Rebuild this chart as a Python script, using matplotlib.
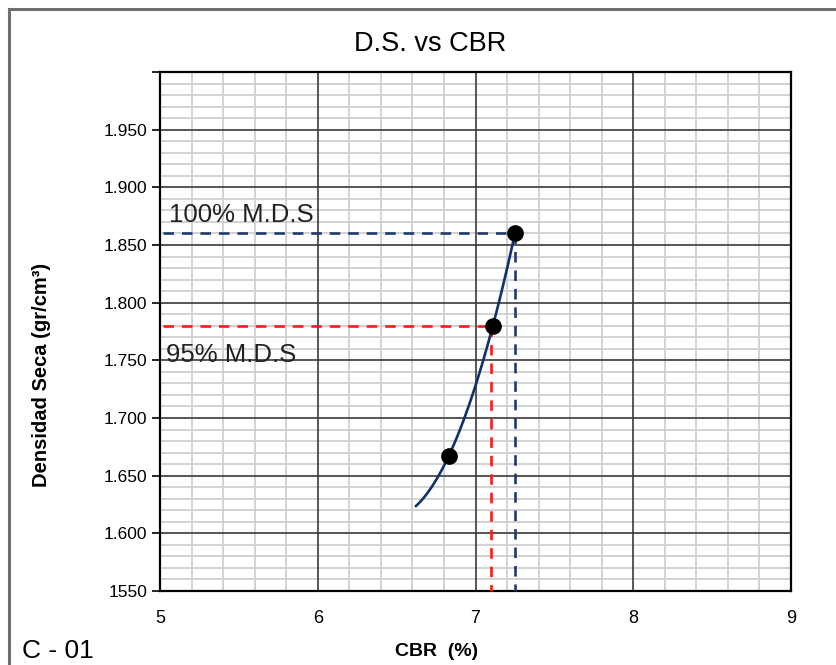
import numpy as np
import matplotlib
matplotlib.use("Agg")
import matplotlib.pyplot as plt
from matplotlib.ticker import MultipleLocator, FixedLocator, FixedFormatter
from matplotlib.lines import Line2D

plt.rcParams['font.family'] = ['Liberation Sans', 'DejaVu Sans']

# datos de ensayo
cbr = [6.83, 7.11, 7.25]          # CBR (%)
ds = [1.667, 1.780, 1.860]        # densidad seca (gr/cm3)

# valores de M.D.S
cbr_100, ds_100 = 7.25, 1.860
cbr_95, ds_95 = 7.10, 1.780

y_ticks = [1.55, 1.60, 1.65, 1.70, 1.75, 1.80, 1.85, 1.90, 1.95]
y_labels = ['1550', '1.600', '1.650', '1.700', '1.750', '1.800', '1.850', '1.900', '1.950']
x_ticks = [5, 6, 7, 8, 9]

fig = plt.figure(figsize=(8.36, 6.65), dpi=100)
ax = fig.add_axes([160/836, 1-591/665, (791-160)/836, (591-72)/665])

ax.set_xlim(5, 9)
ax.set_ylim(1.55, 2.0)

# rejilla: menor gris claro, mayor oscura por encima
ax.xaxis.set_major_locator(FixedLocator(x_ticks))
ax.xaxis.set_minor_locator(MultipleLocator(0.2))
ax.yaxis.set_major_locator(FixedLocator(y_ticks + [2.0]))
ax.yaxis.set_major_formatter(FixedFormatter(y_labels + ['']))
ax.yaxis.set_minor_locator(MultipleLocator(0.01))
ax.grid(which='minor', color='#cfcfcf', lw=1.3)
ax.set_axisbelow(True)
for xv in x_ticks:
    ax.axvline(xv, color='#3a3a3a', lw=1.2, zorder=1)
for yv in y_ticks:
    ax.axhline(yv, color='#3a3a3a', lw=1.2, zorder=1)

ax.tick_params(axis='y', which='major', length=6, width=1.2, labelsize=12.5, pad=3, colors='black')
ax.tick_params(axis='x', which='major', length=0, labelsize=13, pad=14)
ax.tick_params(which='minor', length=0)
for s in ax.spines.values():
    s.set_linewidth(1.6)
    s.set_color('black')

# curva de tendencia (polinomio grado 2)
coef = np.polyfit(cbr, ds, 2)
xc = np.linspace(6.623, cbr[-1], 100)
ax.plot(xc, np.polyval(coef, xc), color='#12306b', lw=1.9, zorder=4)

# lineas de M.D.S
ax.plot([5.02, cbr_100], [ds_100, ds_100], color='#1f3a6e', lw=1.9, ls=(0, (4, 3)), zorder=3)
ax.plot([cbr_100, cbr_100], [ds_100, 1.55], color='#1f3a6e', lw=1.9, ls=(0, (4, 3)), zorder=3, clip_on=False)
ax.plot([5.02, cbr_95], [ds_95, ds_95], color='#ff1a1a', lw=1.9, ls=(0, (4, 3)), zorder=3)
ax.plot([cbr_95, cbr_95], [ds_95, 1.55], color='#ff1a1a', lw=1.9, ls=(0, (4, 3)), zorder=3, clip_on=False)

ax.plot(cbr, ds, 'o', color='black', ms=11, zorder=5)

ax.text(5.057, 1.8764, '100% M.D.S', fontsize=18.5, va='center', ha='left', color='#222222')
ax.text(5.038, 1.755, '95% M.D.S', fontsize=18.5, va='center', ha='left', color='#222222')

fig.text(430/836, 1-44/665, 'D.S. vs CBR', fontsize=19.5, ha='center', va='center')
fig.text(42/836, 1-375/665, 'Densidad Seca (gr/cm³)', fontsize=14.5, fontweight='bold',
         rotation=90, ha='center', va='center')
fig.text(437/836, 1-651/665, 'CBR  (%)', fontsize=14, fontweight='bold', ha='center', va='center')
fig.text(22/836, 1-651/665, 'C - 01', fontsize=19, ha='left', va='center')

# marco
fig.add_artist(Line2D([8.5/836, 8.5/836], [0, 1-8.5/665], color='#707070', lw=2.2))
fig.add_artist(Line2D([8.5/836, 1], [1-8.5/665, 1-8.5/665], color='#707070', lw=2.2))

fig.savefig('out.png', dpi=100)
